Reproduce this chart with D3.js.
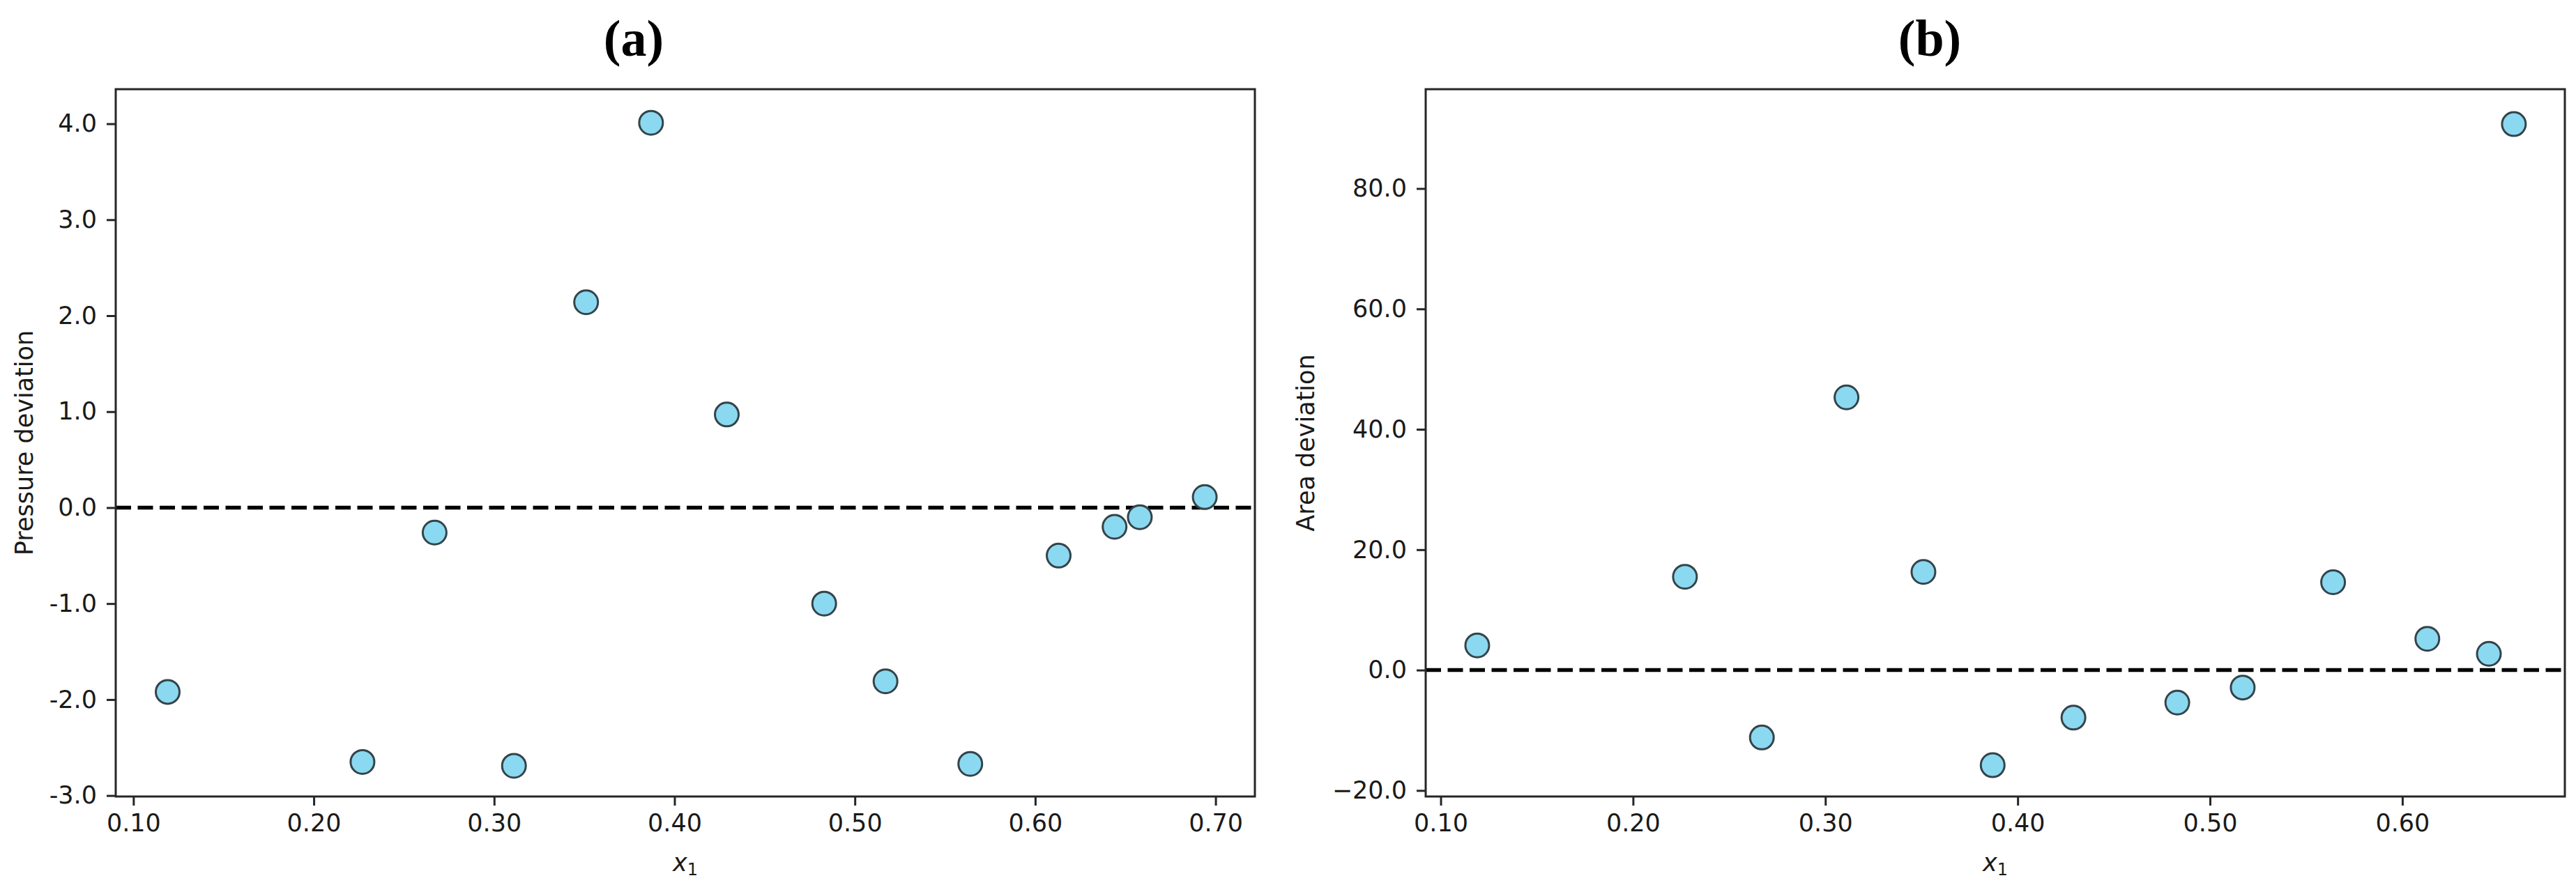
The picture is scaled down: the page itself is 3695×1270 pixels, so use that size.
<!DOCTYPE html>
<html>
<head>
<meta charset="utf-8">
<script src="https://cdn.jsdelivr.net/npm/d3@7"></script>
<style>
  body { margin: 0; background: #fff; }
  svg text { font-family: "DejaVu Sans", sans-serif; }
</style>
</head>
<body>
<div id="chart"></div>
<script>
// x1 values of the sample points
var xA = [0.119, 0.227, 0.267, 0.311, 0.351, 0.387, 0.429, 0.483, 0.517, 0.564, 0.613, 0.644, 0.658, 0.694];
var pressureDev = [-1.92, -2.65, -0.26, -2.69, 2.14, 4.01, 0.97, -1.00, -1.81, -2.67, -0.50, -0.20, -0.10, 0.11];

var xB = [0.119, 0.227, 0.267, 0.311, 0.351, 0.387, 0.429, 0.483, 0.517, 0.564, 0.613, 0.645, 0.658];
var areaDev = [4.1, 15.5, -11.2, 45.3, 16.3, -15.8, -7.9, -5.4, -2.9, 14.6, 5.2, 2.7, 90.7];

// tick values
var xTicksA = [0.1, 0.2, 0.3, 0.4, 0.5, 0.6, 0.7];
var xTicksB = [0.1, 0.2, 0.3, 0.4, 0.5, 0.6];
var pressureTicks = [-3, -2, -1, 0, 1, 2, 3, 4];
var areaTicks = [-20, 0, 20, 40, 60, 80];

var width = 3695, height = 1270;

var svg = d3.select('#chart')
    .append('svg')
    .attr('width', width)
    .attr('height', height);

svg.append('rect').attr('width', width).attr('height', height).attr('fill', '#fff');

function drawPanel(opts) {
    var x = d3.scaleLinear().domain(opts.xDomain).range([opts.left, opts.right]);
    var y = d3.scaleLinear().domain(opts.yDomain).range([opts.bottom, opts.top]);
    var pts = opts.xs.map((v, i) => ({x: v, y: opts.ys[i]}));

    // panel title
    svg.append('text')
        .attr('x', opts.titleX)
        .attr('y', 80)
        .attr('text-anchor', 'middle')
        .style('font-family', '"Liberation Serif", serif')
        .style('font-weight', 'bold')
        .style('font-size', '74px')
        .text(opts.title);

    // x axis
    var gx = svg.append('g')
        .attr('transform', `translate(0, ${opts.bottom})`)
        .call(d3.axisBottom(x).tickValues(opts.xTicks).tickFormat(d3.format('.2f'))
            .tickSize(13).tickSizeOuter(0).tickPadding(12));
    gx.select('.domain').remove();
    gx.selectAll('line').attr('stroke', '#262626').attr('stroke-width', 3);
    gx.selectAll('text').attr('fill', '#1a1a1a').style('font-size', '35px');

    // y axis
    var gy = svg.append('g')
        .attr('transform', `translate(${opts.left}, 0)`)
        .call(d3.axisLeft(y).tickValues(opts.yTicks).tickFormat(opts.yFormat)
            .tickSize(13).tickSizeOuter(0).tickPadding(14));
    gy.select('.domain').remove();
    gy.selectAll('line').attr('stroke', '#262626').attr('stroke-width', 3);
    gy.selectAll('text').attr('fill', '#1a1a1a').style('font-size', '35px');

    // zero reference line
    svg.append('line')
        .attr('x1', opts.left).attr('x2', opts.right)
        .attr('y1', y(0)).attr('y2', y(0))
        .attr('stroke', '#000')
        .attr('stroke-width', 5.5)
        .attr('stroke-dasharray', '22,9.5');

    // points
    svg.append('g')
        .selectAll('circle')
        .data(pts)
        .join('circle')
            .attr('cx', d => x(d.x))
            .attr('cy', d => y(d.y))
            .attr('r', 17)
            .attr('fill', '#8ad9f0')
            .attr('stroke', '#34444a')
            .attr('stroke-width', 3);

    // frame
    svg.append('rect')
        .attr('x', opts.left).attr('y', opts.top)
        .attr('width', opts.right - opts.left)
        .attr('height', opts.bottom - opts.top)
        .attr('fill', 'none')
        .attr('stroke', '#262626')
        .attr('stroke-width', 3);

    // axis labels
    svg.append('text')
        .attr('transform', `translate(${opts.yLabelX}, ${(opts.top + opts.bottom) / 2}) rotate(-90)`)
        .attr('text-anchor', 'middle')
        .attr('fill', '#1a1a1a')
        .style('font-size', '35px')
        .text(opts.yLabel);

    var xl = svg.append('text')
        .attr('x', (opts.left + opts.right) / 2)
        .attr('y', 1250)
        .attr('text-anchor', 'middle')
        .attr('fill', '#1a1a1a')
        .style('font-size', '35px');
    xl.append('tspan').style('font-style', 'italic').text('x');
    xl.append('tspan').attr('dy', 6).style('font-size', '24px').text('1');
}

var hyphenFmt = d => d3.format('.1f')(d).replace('\u2212', '-');
var minusFmt = d3.format('.1f');

drawPanel({
    title: '(a)', titleX: 909,
    xs: xA, ys: pressureDev,
    xDomain: [0.0902, 0.7218], yDomain: [-3.01, 4.36],
    left: 166, right: 1800, top: 128, bottom: 1143,
    xTicks: xTicksA, yTicks: pressureTicks, yFormat: hyphenFmt,
    yLabel: 'Pressure deviation', yLabelX: 47
});

drawPanel({
    title: '(b)', titleX: 2768,
    xs: xB, ys: areaDev,
    xDomain: [0.0922, 0.6845], yDomain: [-21.0, 96.5],
    left: 2045, right: 3679, top: 128, bottom: 1143,
    xTicks: xTicksB, yTicks: areaTicks, yFormat: minusFmt,
    yLabel: 'Area deviation', yLabelX: 1885
});
</script>
</body>
</html>
